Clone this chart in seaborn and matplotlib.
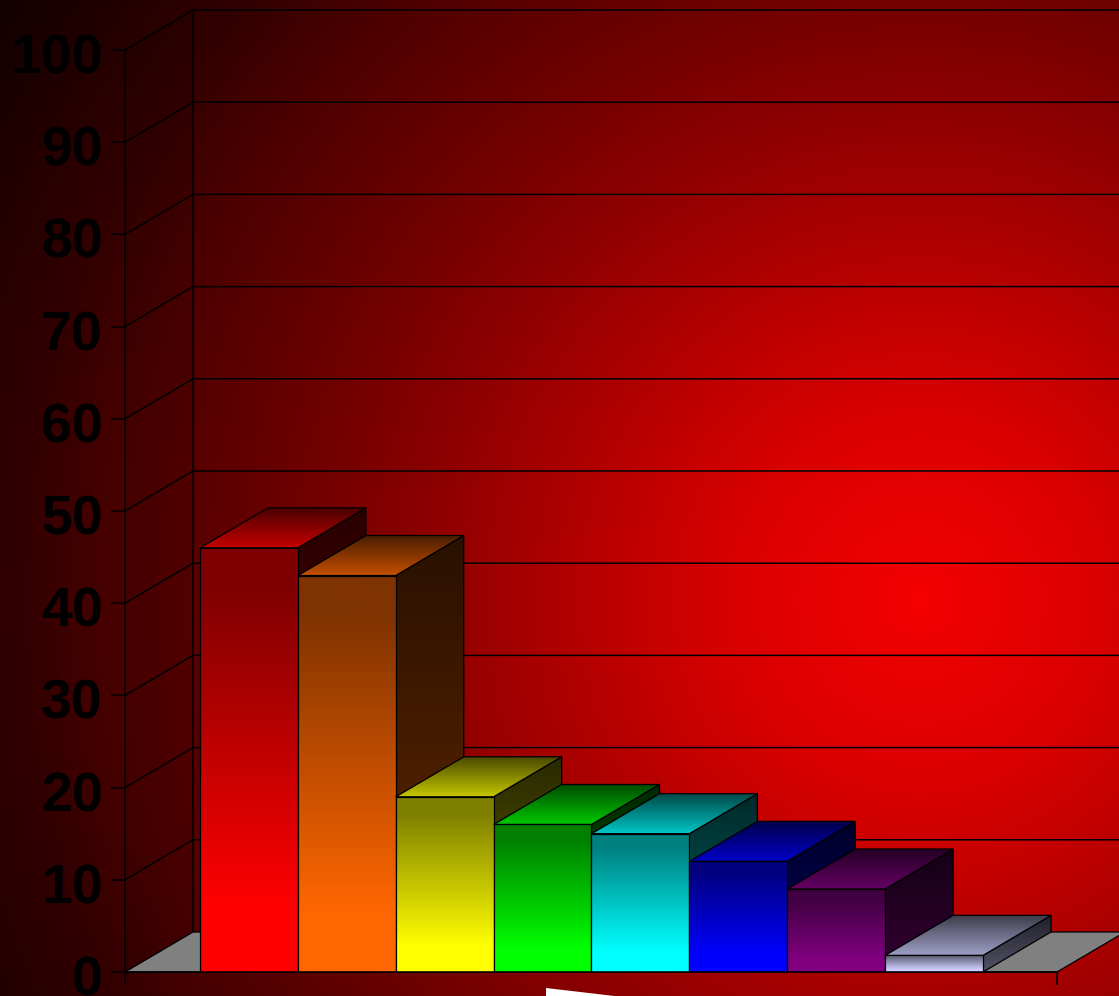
import numpy as np
import matplotlib
matplotlib.use("Agg")
import matplotlib.pyplot as plt
import matplotlib.transforms as mtrans
from matplotlib.colors import to_rgb
from matplotlib.patches import Polygon
import seaborn as sns

# data
categories = ["a", "b", "c", "d", "e", "f", "g", "h"]
values = [46, 43, 19, 16, 15, 12, 9, 1.8]
bar_colors = ["#ff0000", "#ff6600", "#ffff00", "#00ff00", "#00ffff", "#0000ff", "#800080", "#ccccff"]
y_ticks = [0, 10, 20, 30, 40, 50, 60, 70, 80, 90, 100]

# 3d look: how far the back wall sits from the front plane
depth_x = 0.695
depth_y = 4.34
line_col = "#000000"

sns.set_style("white")
plt.rcParams["font.family"] = ["Liberation Sans", "DejaVu Sans"]

W, H = 1119, 996
fig = plt.figure(figsize=(W / 100, H / 100), dpi=100)

# === background gradient, in pixel coords === #
bg = fig.add_axes([0, 0, 1, 1], zorder=0)
xx, yy = np.meshgrid(np.arange(W), np.arange(H))
dist = np.hypot(xx - 920, yy - 600)
red = np.interp(dist, [0, 200, 500, 650, 800, 900, 1100], [245, 215, 140, 105, 75, 50, 18])
img = np.zeros((H, W, 3))
img[..., 0] = red / 255
bg.imshow(img, extent=(0, W, H, 0), aspect="auto", interpolation="bilinear")
bg.add_patch(Polygon([(546, 988), (640, 999), (546, 999)], closed=True, fc="white", ec="none"))
bg.set_xlim(0, W)
bg.set_ylim(H, 0)
bg.axis("off")

# === main axes === #
ax = fig.add_axes([125 / W, (H - 972) / H, (1057 - 125) / W, (972 - 50) / H], zorder=1)
ax.patch.set_alpha(0)

sns.barplot(x=categories, y=values, hue=categories, palette=bar_colors, width=1,
            saturation=1, legend=False, ax=ax)
bars = sorted(ax.patches, key=lambda b: b.get_x())

xmin, xmax = -1.266, 8.256
ax.set_xlim(xmin, xmax)
ax.set_ylim(0, 100)
ax.autoscale(False)


def shade(color, stops, factors, extent, outline, z):
    # vertical gradient clipped to a polygon
    t = np.linspace(0, 1, 200)
    f = np.interp(t, stops, factors)
    grad = np.outer(f, to_rgb(color)).reshape(200, 1, 3)
    poly = Polygon(outline, closed=True, fc="none", ec=line_col, lw=0.9, zorder=z + 0.1)
    ax.add_patch(poly)
    im = ax.imshow(grad, extent=extent, origin="lower", aspect="auto",
                   interpolation="bilinear", zorder=z)
    im.set_clip_path(poly)


# walls, floor and grid
floor = [(xmin, 0), (xmin + depth_x, depth_y), (xmax + depth_x, depth_y), (xmax, 0)]
ax.add_patch(Polygon(floor, closed=True, fc="#808080", ec=line_col, lw=0.9, clip_on=False, zorder=1))
wall = [(xmin, 0), (xmin + depth_x, depth_y), (xmin + depth_x, 100 + depth_y), (xmin, 100)]
ax.add_patch(Polygon(wall, closed=True, fc="black", alpha=0.08, ec="none", clip_on=False, zorder=0.5))
for v in y_ticks[1:]:
    ax.plot([xmin, xmin + depth_x, xmax + depth_x], [v, v + depth_y, v + depth_y],
            color=line_col, lw=1.1, clip_on=False, zorder=1)
ax.plot([xmin + depth_x, xmin + depth_x], [depth_y, 100 + depth_y],
        color=line_col, lw=1.1, clip_on=False, zorder=1)

# bars: seaborn gives the front faces, top and side are built from them
for i, (bar, col) in enumerate(zip(bars, bar_colors)):
    x0 = bar.get_x()
    x1 = x0 + bar.get_width()
    h = bar.get_height()
    z = 3 + i
    side = [(x1, 0), (x1 + depth_x, depth_y), (x1 + depth_x, h + depth_y), (x1, h)]
    shade(col, [0, 1], [0.4, 0.16], (x1, x1 + depth_x, 0, h + depth_y), side, z)
    top = [(x0, h), (x1, h), (x1 + depth_x, h + depth_y), (x0 + depth_x, h + depth_y)]
    shade(col, [0, 1], [0.78, 0.28], (x0, x1 + depth_x, h, h + depth_y), top, z + 0.2)
    front = [(x0, 0), (x1, 0), (x1, h), (x0, h)]
    shade(col, [0, 0.15, 0.9, 1], [1, 1, 0.5, 0.5], (x0, x1, 0, h), front, z + 0.4)
    bar.set_visible(False)

ax.set_xlim(xmin, xmax)
ax.set_ylim(0, 100)

# axes
sns.despine(ax=ax)
for s in ["left", "bottom"]:
    ax.spines[s].set_color(line_col)
    ax.spines[s].set_linewidth(1.1)
    ax.spines[s].set_zorder(20)
ax.set_xticks([xmin, xmax])
ax.set_xticklabels(["", ""])
ax.set_yticks(y_ticks)
ax.set_yticklabels([str(v) for v in y_ticks], fontsize=40, fontweight="bold", color="black")
ax.tick_params(axis="x", length=9, width=1.1, color=line_col, bottom=True)
ax.tick_params(axis="y", length=10, width=1.1, color=line_col, pad=6, left=True)
nudge = mtrans.ScaledTranslation(0, -3.5 / 100, fig.dpi_scale_trans)
for lab in ax.get_yticklabels():
    lab.set_transform(lab.get_transform() + nudge)
    lab.set_clip_on(False)

fig.savefig("out.png", dpi=100)
